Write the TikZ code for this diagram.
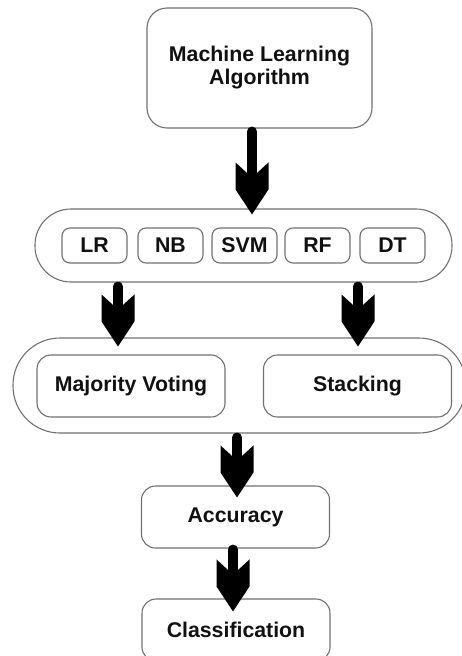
\documentclass[tikz,border=0pt]{standalone}
\usepackage{fontspec}
\setmainfont{Liberation Sans}
\usetikzlibrary{arrows.meta}

% Broad arrow head with vertical flanks and notched barbs
\pgfdeclarearrow{
  name = BarbHead,
  setup code = {
    \pgfarrowssettipend{0pt}
    \pgfarrowssetlineend{-40pt}
    \pgfarrowssetbackend{-52pt}
    \pgfarrowshullpoint{0pt}{0pt}
    \pgfarrowshullpoint{-52pt}{16.5pt}
    \pgfarrowshullpoint{-52pt}{-16.5pt}
  },
  drawing code = {
    \pgfpathmoveto{\pgfpoint{0pt}{0pt}}
    \pgfpathlineto{\pgfpoint{-25pt}{16.5pt}}
    \pgfpathlineto{\pgfpoint{-52pt}{16.5pt}}
    \pgfpathlineto{\pgfpoint{-41pt}{4.5pt}}
    \pgfpathlineto{\pgfpoint{-41pt}{-4.5pt}}
    \pgfpathlineto{\pgfpoint{-52pt}{-16.5pt}}
    \pgfpathlineto{\pgfpoint{-25pt}{-16.5pt}}
    \pgfpathclose
    \pgfusepathqfill
  },
}

\definecolor{boxline}{HTML}{707070}
\definecolor{ink}{HTML}{111111}

\tikzset{
  box/.style={draw=boxline, line width=1.1pt, rectangle, inner sep=0pt,
    align=center, text=ink,
    font=\fontsize{21.3}{23}\selectfont\bfseries},
  mainbox/.style={box, minimum width=225pt, minimum height=120pt, rounded corners=20pt},
  pill/.style={box, rounded corners=#1},
  algbox/.style={box, minimum width=65pt, minimum height=35pt, rounded corners=8pt},
  widebox/.style={box, minimum width=188pt, minimum height=62pt, rounded corners=14pt},
  flow/.style={line width=10pt, line cap=round, draw=black, -{BarbHead}},
}

\begin{document}
\begin{tikzpicture}[x=1pt, y=-1pt]
\useasboundingbox (0,0) rectangle (461,656);

% top level
\node[mainbox] (ml) at (259.5,68) {Machine Learning\\Algorithm};

% base classifiers
\node[pill=36pt, minimum width=417pt, minimum height=73pt] (row) at (243.5,245.5) {};
\node[algbox] (lr)  at (94.5,245.5)  {LR};
\node[algbox] (nb)  at (170.5,245.5) {NB};
\node[algbox] (svm) at (244.5,245.5) {SVM};
\node[algbox] (rf)  at (317.5,245.5) {RF};
\node[algbox] (dt)  at (392.5,245.5) {DT};

% ensemble strategies
\node[pill=47pt, minimum width=453pt, minimum height=95pt] (ens) at (239.5,385.5) {};
\node[widebox] (mv) at (131,386)   {Majority Voting};
\node[widebox] (st) at (357.5,386) {Stacking};

% evaluation
\node[widebox] (acc) at (235.5,517) {Accuracy};
\node[widebox] (cls) at (236,630)   {Classification};

% flow arrows
\draw[flow] ([xshift=-7.5pt, yshift=-3pt]ml.south) -- ([xshift=8.5pt, yshift=-6pt]row.north);
\draw[flow] ([xshift=-125.5pt, yshift=-4pt]row.south) -- ([xshift=-121.5pt, yshift=-9pt]ens.north);
\draw[flow] ([xshift=114.5pt, yshift=-4pt]row.south) -- ([xshift=118.5pt, yshift=-9pt]ens.north);
\draw[flow] ([xshift=-2.5pt, yshift=-4pt]ens.south) -- ([xshift=1.5pt, yshift=-12pt]acc.north);
\draw[flow] ([xshift=-2.5pt, yshift=-1pt]acc.south) -- ([xshift=-3pt, yshift=-13pt]cls.north);
\end{tikzpicture}
\end{document}
